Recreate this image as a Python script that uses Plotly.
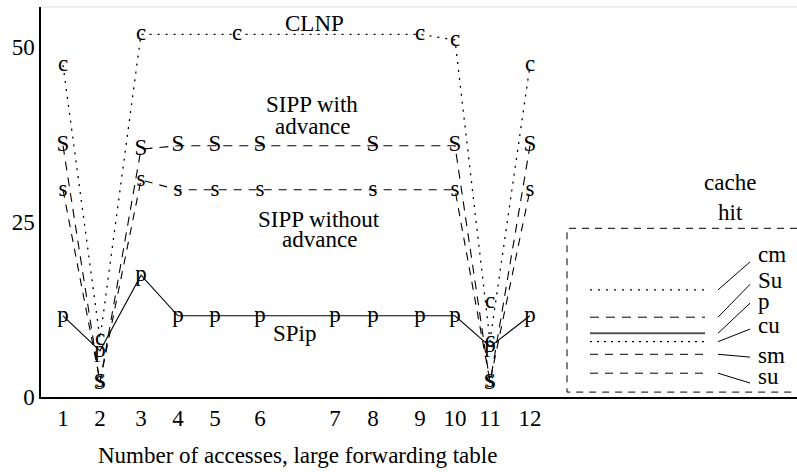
import plotly.graph_objects as go

FONT = "Liberation Serif, Times New Roman, Times, DejaVu Serif, serif"
FS = 23

# ---- data ----
access_labels = [str(i) for i in range(1, 13)]
access_pos = [2.2, 5.9, 10.0, 13.7, 17.4, 21.9, 29.4, 33.2, 37.9, 41.4, 44.9, 48.9]

clnp_pos = [2.2, 5.9, 10.0, 19.6, 37.9, 41.4, 44.9, 48.9]
clnp_val = [47.4, 8.3, 51.8, 51.8, 51.8, 51.0, 8.0, 47.4]
clnp_miss_pos = [44.9]
clnp_miss_val = [13.6]

sipp_idx = [0, 1, 2, 3, 4, 5, 7, 9, 10, 11]
sipp_adv_val = [35.9, 2.0, 35.4, 35.9, 35.9, 35.9, 35.9, 35.9, 2.0, 35.9]
sipp_noadv_val = [29.6, 2.2, 31.0, 29.6, 29.6, 29.6, 29.6, 29.6, 2.2, 29.6]

spip_val = [11.6, 6.6, 17.4, 11.6, 11.6, 11.6, 11.6, 11.6, 11.6, 11.6, 7.2, 11.6]

# cache-hit inset
hit_labels = ["cm", "Su", "p", "cu", "sm", "su"]
hit_levels = [15.3, 11.4, 9.1, 7.9, 6.1, 3.4]
hit_dash = ["2px,6px", "9px,7px", "solid", "2px,5px", "8px,7px", "8px,7px"]
hit_color = ["black", "black", "#555", "black", "black", "black"]
hit_width = [1.2, 1, 2, 1.2, 1, 1]
hit_label_y = [20.4, 16.6, 13.7, 10.2, 6.0, 2.9]
leader_end = [19.3, 16.1, 13.4, 9.7, 5.7, 2.0]

# ---- figure ----
sipp_pos = [access_pos[i] for i in sipp_idx]
fig = go.Figure()

def series(x, y, ch, dash, width=1.1, mode="lines+text"):
    fig.add_trace(go.Scatter(
        x=x, y=y, mode=mode, text=[ch] * len(x), textposition="middle center",
        textfont=dict(family=FONT, size=FS, color="black"),
        line=dict(color="black", width=width, dash=dash),
        cliponaxis=False, showlegend=False, hoverinfo="skip"))

series(clnp_pos, clnp_val, "c", "2px,6px", 1.3)
series(clnp_miss_pos, clnp_miss_val, "c", "solid", mode="text")
series(sipp_pos, sipp_adv_val, "S", "9px,7px")
series(sipp_pos, sipp_noadv_val, "s", "8px,7px")
series(access_pos, spip_val, "p", "solid", 1.1)

ann = []
def label(x, y, t, xanchor="center"):
    ann.append(dict(x=x, y=y, xref="x", yref="y", text=t, showarrow=False,
                    xanchor=xanchor, yanchor="middle",
                    font=dict(family=FONT, size=FS, color="black")))

label(27.3, 53.4, "CLNP")
label(27.1, 41.8, "SIPP with")
label(27.1, 38.7, "advance")
label(27.8, 25.4, "SIPP without")
label(27.8, 22.5, "advance")
label(25.3, 9.1, "SPip")

# inset
label(68.9, 30.6, "cache")
label(68.9, 26.4, "hit")
shapes = []
shapes.append(dict(type="path", xref="x", yref="y",
                   path="M 75.6,24.1 L 52.6,24.1 L 52.6,0.7 L 75.6,0.7",
                   line=dict(color="black", width=1, dash="7px,6px")))
for lvl, d, c, w, lab, ly, le in zip(hit_levels, hit_dash, hit_color, hit_width,
                                     hit_labels, hit_label_y, leader_end):
    shapes.append(dict(type="line", xref="x", yref="y", x0=54.9, x1=66.4, y0=lvl, y1=lvl,
                       line=dict(color=c, width=w, dash=d)))
    shapes.append(dict(type="line", xref="x", yref="y", x0=67.7, x1=70.9, y0=lvl, y1=le,
                       line=dict(color="black", width=1)))
    label(71.5, ly, lab, xanchor="left")

# top light border
shapes.append(dict(type="line", xref="paper", yref="paper", x0=0, x1=1, y0=1, y1=1,
                   line=dict(color="#dddddd", width=1)))

ann.append(dict(x=(297 - 41) / 756, y=-0.149, xref="paper", yref="paper",
                text="Number of accesses, large forwarding table", showarrow=False,
                xanchor="center", yanchor="middle",
                font=dict(family=FONT, size=FS, color="black")))

fig.update_layout(
    width=797, height=472,
    margin=dict(l=41, r=0, t=7, b=75),
    paper_bgcolor="white", plot_bgcolor="white",
    font=dict(family=FONT, size=FS, color="black"),
    annotations=ann, shapes=shapes,
    xaxis=dict(range=[0, 75.6], tickvals=access_pos, ticktext=access_labels,
               showline=True, linecolor="black", linewidth=1.5, ticks="",
               showgrid=False, zeroline=False, automargin=False,
               tickfont=dict(family=FONT, size=FS, color="black")),
    yaxis=dict(range=[0, 390 / 7], tickvals=[0, 25, 50], ticktext=["0", "25", "50"],
               showline=True, linecolor="black", linewidth=1.5, ticks="",
               showgrid=False, zeroline=False, automargin=False,
               tickfont=dict(family=FONT, size=FS, color="black")),
)

fig.write_html("out.html")
